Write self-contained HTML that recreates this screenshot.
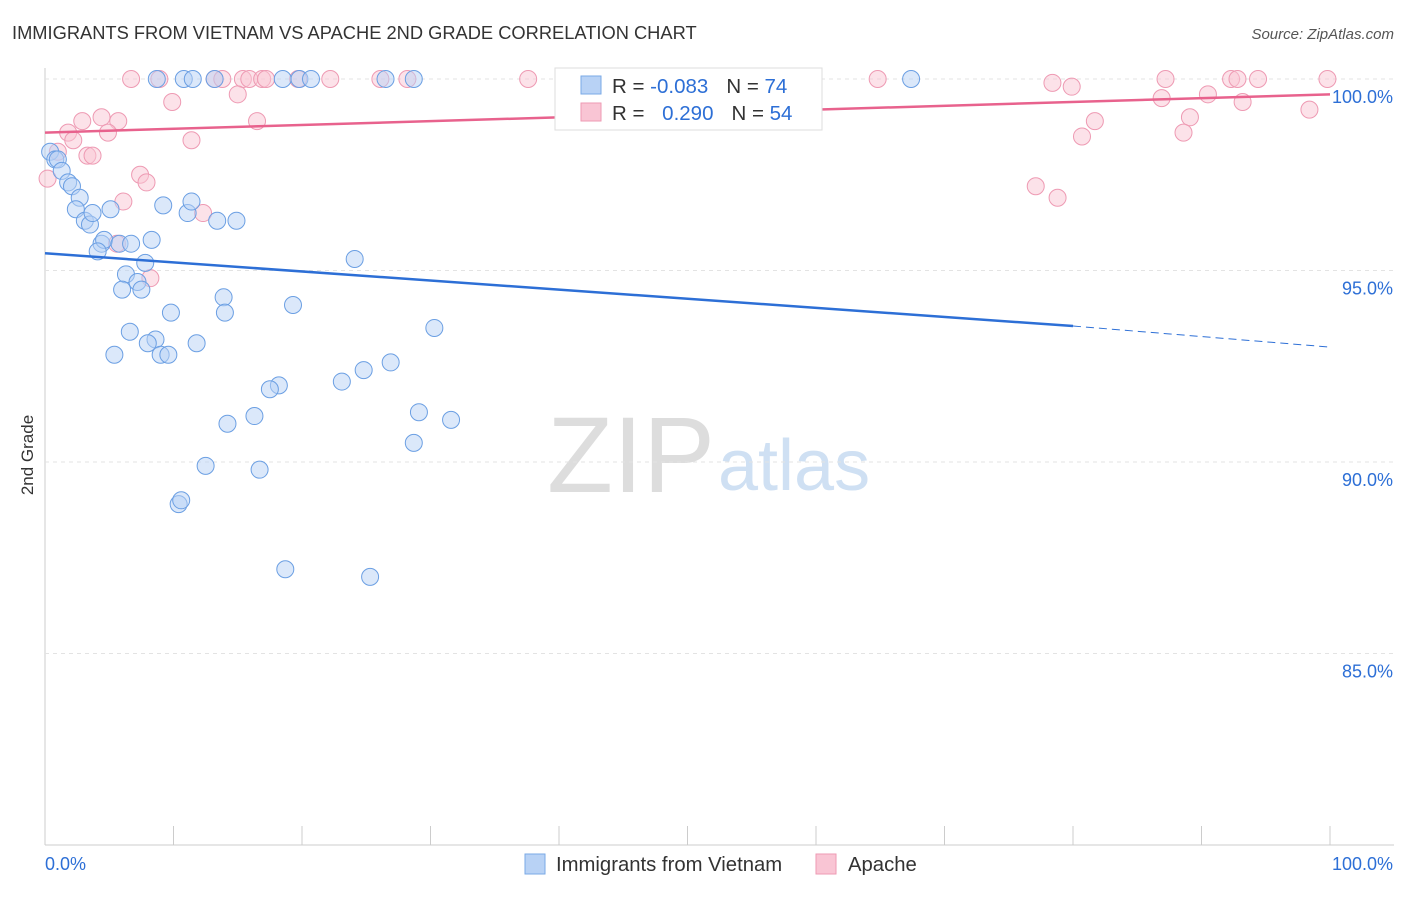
<!DOCTYPE html>
<html><head><meta charset="utf-8"><style>
body{margin:0;background:#fff;font-family:"Liberation Sans",sans-serif;}
svg text{font-family:"Liberation Sans",sans-serif;}
</style></head><body>
<svg id="chart" width="1406" height="892">
<text x="12" y="39" font-size="18.3" fill="#333">IMMIGRANTS FROM VIETNAM VS APACHE 2ND GRADE CORRELATION CHART</text>
<text x="1394" y="39" font-size="15" fill="#555" font-style="italic" text-anchor="end">Source: ZipAtlas.com</text>
<text x="33" y="455" font-size="17" fill="#333" text-anchor="middle" transform="rotate(-90 33 455)">2nd Grade</text>
<text x="715" y="492" font-size="108" fill="#ddd" font-family="Liberation Serif" text-anchor="end">ZIP</text>
<text x="718" y="490" font-size="72" fill="#cfe0f3">atlas</text>
<g id="grid"></g><g id="pts"></g><g id="lines"></g>
<g>
<rect x="555" y="68" width="267" height="62" fill="#fff" stroke="#ddd"/>
<rect x="581" y="76" width="20" height="18" fill="#b8d2f5" stroke="#7aa9e6"/>
<rect x="581" y="103" width="20" height="18" fill="#f9c5d4" stroke="#ee9ab3"/>
<text x="612" y="93" font-size="20.5" fill="#333">R = <tspan fill="#2d6fd6">-0.083</tspan><tspan dx="18">N = </tspan><tspan fill="#2d6fd6">74</tspan></text>
<text x="612" y="120" font-size="20.5" fill="#333">R = <tspan fill="#2d6fd6" dx="12">0.290</tspan><tspan dx="18">N = </tspan><tspan fill="#2d6fd6">54</tspan></text>
</g>
<g>
<rect x="525" y="854" width="20" height="20" fill="#b8d2f5" stroke="#7aa9e6"/>
<text x="556" y="871" font-size="20.3" fill="#333">Immigrants from Vietnam</text>
<rect x="816" y="854" width="20" height="20" fill="#f9c5d4" stroke="#ee9ab3"/>
<text x="848" y="871" font-size="20.3" fill="#333">Apache</text>
</g>
<text x="45" y="870" font-size="18" fill="#2d6fd6">0.0%</text>
<text x="1393" y="870" font-size="18" fill="#2d6fd6" text-anchor="end">100.0%</text>
</svg>
<script>
const yTicks=[100,95,90,85];
const yTickLabels=["100.0%","95.0%","90.0%","85.0%"];
const xTicks=[0,10,20,30,40,50,60,70,80,90,100];
const blueX=[8.7,10.8,11.5,13.2,18.5,19.8,20.7,26.5,28.7,43,67.4,0.4,0.8,1,1.3,1.8,2.1,2.7,2.4,3.1,3.5,3.7,5.1,9.2,11.1,11.4,13.4,14.9,4.4,4.6,4.1,5.8,6.7,8.3,7.8,6.3,6,7.2,7.5,24.1,13.9,14,9.8,19.3,6.6,8.6,8,9,9.6,11.8,5.4,30.3,26.9,24.8,23.1,18.2,17.5,29.1,31.6,16.3,14.2,28.7,12.5,16.7,10.4,10.6,18.7,25.3];
const blueY=[100,100,100,100,100,100,100,100,100,100,100,98.1,97.9,97.9,97.6,97.3,97.2,96.9,96.6,96.3,96.2,96.5,96.6,96.7,96.5,96.8,96.3,96.3,95.7,95.8,95.5,95.7,95.7,95.8,95.2,94.9,94.5,94.7,94.5,95.3,94.3,93.9,93.9,94.1,93.4,93.2,93.1,92.8,92.8,93.1,92.8,93.5,92.6,92.4,92.1,92,91.9,91.3,91.1,91.2,91,90.5,89.9,89.8,88.9,89,87.2,87];
const pinkX=[6.7,8.9,13.2,13.8,15.4,15.9,16.9,17.2,19.7,22.2,26.1,28.2,37.6,64.8,78.4,79.9,87.2,92.3,92.8,94.4,99.8,9.9,15,16.5,86.9,90.5,93.2,89.1,81.7,88.6,80.7,98.4,1.8,2.9,4.4,5.7,4.9,2.2,3.3,3.7,11.4,7.4,7.9,6.1,12.3,5.6,8.2,77.1,78.8,0.2,1];
const pinkY=[100,100,100,100,100,100,100,100,100,100,100,100,100,100,99.9,99.8,100,100,100,100,100,99.4,99.6,98.9,99.5,99.6,99.4,99,98.9,98.6,98.5,99.2,98.6,98.9,99,98.9,98.6,98.4,98,98,98.4,97.5,97.3,96.8,96.5,95.7,94.8,97.2,96.9,97.4,98.1];
const blueTrend=[95.45,93.55,93];
const pinkTrend=[98.6,99.6];
const NS='http://www.w3.org/2000/svg';
const sx=v=>45+v*12.85, sy=v=>79+(100-v)*38.3;
const grid=document.getElementById('grid'),pts=document.getElementById('pts'),lines=document.getElementById('lines');
function mk(t,a,p){const e=document.createElementNS(NS,t);for(const k in a)e.setAttribute(k,a[k]);p.appendChild(e);return e;}
const ax=mk('line',{x1:45,x2:45,y1:68,y2:845,stroke:'#ccc'},grid);


const bx=mk('line',{x1:45,x2:1394,y1:845,y2:845,stroke:'#ccc'},grid);


yTicks.forEach((v,i)=>{
 const g=mk('line',{x1:45,x2:1394,y1:sy(v),y2:sy(v),stroke:'#e3e3e3','stroke-dasharray':'4,4'},grid);
 
 
 const t=mk('text',{x:1393,y:sy(v)+24,'font-size':18,fill:'#2d6fd6','text-anchor':'end'},grid);
 t.textContent=yTickLabels[i];
 
 
});
xTicks.forEach(v=>{
 const t=mk('line',{x1:sx(v),x2:sx(v),y1:826,y2:845,stroke:'#ccc'},grid);
 
 
});
function dots(X,Y,fill,stroke,name){X.forEach((x,i)=>{
 const c=mk('circle',{cx:sx(x),cy:sy(Y[i]),r:8.5,fill:fill,'fill-opacity':0.5,stroke:stroke,'stroke-width':1},pts);
 
 
});}
dots(pinkX,pinkY,'#f9c5d4','#ee9ab3','apache-point');
dots(blueX,blueY,'#b8d2f5','#6b9fe3','vietnam-point');
const bl=mk('line',{x1:sx(0),y1:sy(blueTrend[0]),x2:sx(80),y2:sy(blueTrend[1]),stroke:'#2d6fd6','stroke-width':2.5},lines);


const bd=mk('line',{x1:sx(80),y1:sy(blueTrend[1]),x2:sx(100),y2:sy(blueTrend[2]),stroke:'#2d6fd6','stroke-width':1,'stroke-dasharray':'8,5'},lines);


const pl=mk('line',{x1:sx(0),y1:sy(pinkTrend[0]),x2:sx(100),y2:sy(pinkTrend[1]),stroke:'#e8628d','stroke-width':2.5},lines);


</script>
</body></html>
